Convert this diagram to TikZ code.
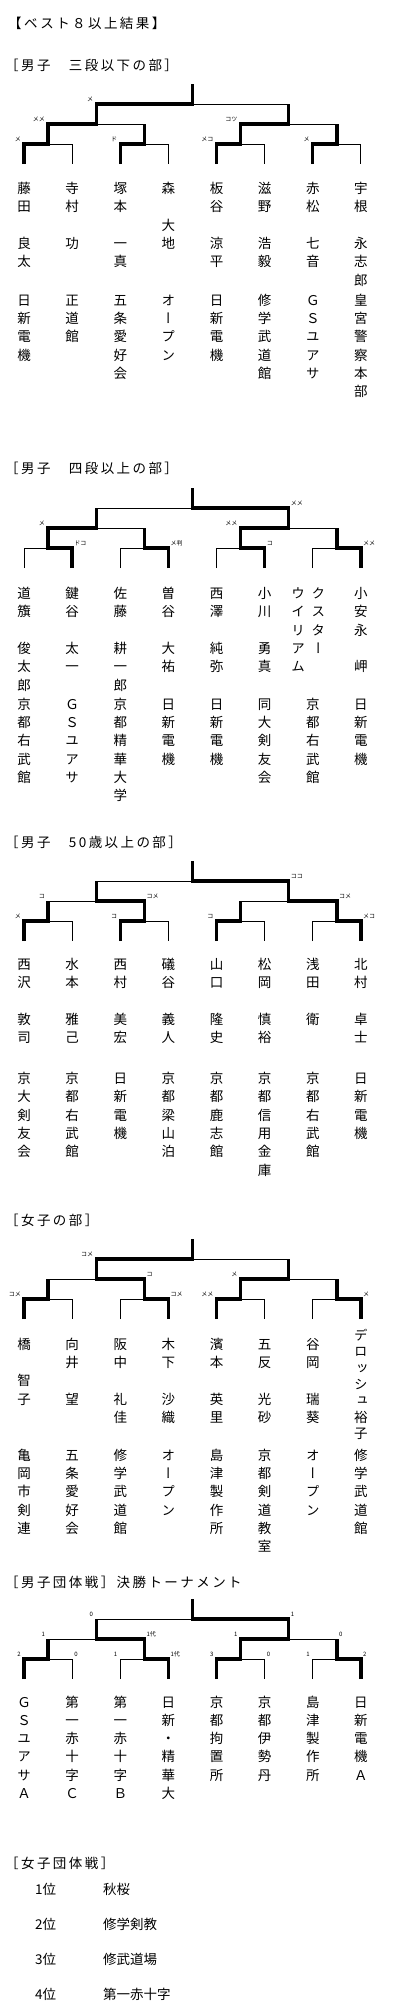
\documentclass[tikz,border=0pt]{standalone}
\usepackage{fontspec}
\newfontfamily\jp{Noto Sans CJK JP}
\newfontfamily\jphead{Noto Sans CJK JP}[LetterSpace=18]
\newfontfamily\jpvert{Noto Sans CJK JP}[RawFeature=+vert]
\newcommand{\st}{\rule{0pt}{12pt}}
\tikzset{
  loseline/.style={line width=1pt},
  winline/.style={line width=3.3pt, line join=miter},
  heading/.style={anchor=west, inner sep=0pt, font=\jphead\fontsize{13.5}{16}\selectfont},
  rank/.style={anchor=west, inner sep=0pt, font=\jp\fontsize{13.5}{16}\selectfont},
  score/.style={inner sep=0pt, font=\jp\fontsize{6}{7}\selectfont},
  scorel/.style={score, anchor=south east, xshift=-3pt, yshift=2pt},
  scorer/.style={score, anchor=south west, xshift=2pt, yshift=2pt},
  namecol/.style={anchor=north, inner sep=0pt, align=center, yshift=6.9pt,
    font=\jpvert\fontsize{13.5}{18.3}\selectfont},
}
\newcommand{\match}[4]{%
  \draw[loseline] ({#1-#2},{#3+20}) -- ({#1-#2},{#3}) -- ({#1+#2},{#3}) -- ({#1+#2},{#3+20});
  \draw[winline] ({#1+(#4)*#2},{#3+20}) -- ({#1+(#4)*#2},{#3}) -- ({#1},{#3}) -- ({#1},{#3-20});
}
\newcommand{\bracket}[8]{%
  \match{48.07}{24.07}{#1}{#2}
  \match{144.35}{24.07}{#1}{#3}
  \match{240.63}{24.07}{#1}{#4}
  \match{336.91}{24.07}{#1}{#5}
  \match{96.21}{48.14}{#1-20}{#6}
  \match{288.77}{48.14}{#1-20}{#7}
  \match{192.49}{96.28}{#1-40}{#8}
}
\begin{document}
\begin{tikzpicture}[x=1pt,y=-1pt]
\useasboundingbox (0,0) rectangle (400,2011);
\node[heading] (title) at (8,23) {【ベスト８以上結果】};

\node[heading] (h1) at (5,65) {［男子　三段以下の部］};
\bracket{144}{-1}{-1}{-1}{-1}{-1}{-1}{-1}
\node[scorel] (s1k1) at (96.21,104) {メ};
\node[scorel] (s1k2) at (48.07,124) {メメ};
\node[scorel] (s1k3) at (240.63,124) {コツ};
\node[scorel] (s1k4) at (24,144) {メ};
\node[scorel] (s1k5) at (120.28,144) {ド};
\node[scorel] (s1k6) at (216.56,144) {メコ};
\node[scorel] (s1k7) at (312.84,144) {メ};
\node[namecol] (s1p1) at (24,188.3) {\st{}藤\\田\\~\\良\\太};
\node[namecol] (s1p2) at (72.14,188.3) {\st{}寺\\村\\~\\功};
\node[namecol] (s1p3) at (120.28,188.3) {\st{}塚\\本\\~\\一\\真};
\node[namecol] (s1p4) at (168.42,188.3) {\st{}森\\~\\大\\地};
\node[namecol] (s1p5) at (216.56,188.3) {\st{}板\\谷\\~\\涼\\平};
\node[namecol] (s1p6) at (264.70,188.3) {\st{}滋\\野\\~\\浩\\毅};
\node[namecol] (s1p7) at (312.84,188.3) {\st{}赤\\松\\~\\七\\音};
\node[namecol] (s1p8) at (360.98,188.3) {\st{}宇\\根\\~\\永\\志\\郎};
\node[namecol] (s1c1) at (24,300) {\st{}日\\新\\電\\機};
\node[namecol] (s1c2) at (72.14,300) {\st{}正\\道\\館};
\node[namecol] (s1c3) at (120.28,300) {\st{}五\\条\\愛\\好\\会};
\node[namecol] (s1c4) at (168.42,300) {\st{}オ\\ー\\プ\\ン};
\node[namecol] (s1c5) at (216.56,300) {\st{}日\\新\\電\\機};
\node[namecol] (s1c6) at (264.70,300) {\st{}修\\学\\武\\道\\館};
\node[namecol] (s1c7) at (312.84,300) {\st{}Ｇ\\Ｓ\\ユ\\ア\\サ};
\node[namecol] (s1c8) at (360.98,300) {\st{}皇\\宮\\警\\察\\本\\部};

\node[heading] (h2) at (5,468) {［男子　四段以上の部］};
\bracket{548}{1}{1}{1}{1}{-1}{-1}{1}
\node[scorer] (s2k1) at (288.77,508) {メメ};
\node[scorel] (s2k2) at (48.07,528) {メ};
\node[scorel] (s2k3) at (240.63,528) {メメ};
\node[scorer] (s2k4) at (72.14,548) {ドコ};
\node[scorer] (s2k5) at (168.42,548) {メ判};
\node[scorer] (s2k6) at (264.70,548) {コ};
\node[scorer] (s2k7) at (360.98,548) {メメ};
\node[namecol] (s2p1) at (24,593.3) {\st{}道\\籏\\~\\俊\\太\\郎};
\node[namecol] (s2p2) at (72.14,593.3) {\st{}鍵\\谷\\~\\太\\一};
\node[namecol] (s2p3) at (120.28,593.3) {\st{}佐\\藤\\~\\耕\\一\\郎};
\node[namecol] (s2p4) at (168.42,593.3) {\st{}曽\\谷\\~\\大\\祐};
\node[namecol] (s2p5) at (216.56,593.3) {\st{}西\\澤\\~\\純\\弥};
\node[namecol] (s2p6) at (264.70,593.3) {\st{}小\\川\\~\\勇\\真};
\node[namecol] (s2p7a) at (298,593.3) {\st{}ウ\\イ\\リ\\ア\\ム};
\node[namecol] (s2p7b) at (318.3,593.3) {\st{}ク\\ス\\タ\\ー};
\node[namecol] (s2p8) at (360.98,593.3) {\st{}小\\安\\永\\~\\岬};
\node[namecol] (s2c1) at (24,704) {\st{}京\\都\\右\\武\\館};
\node[namecol] (s2c2) at (72.14,704) {\st{}Ｇ\\Ｓ\\ユ\\ア\\サ};
\node[namecol] (s2c3) at (120.28,704) {\st{}京\\都\\精\\華\\大\\学};
\node[namecol] (s2c4) at (168.42,704) {\st{}日\\新\\電\\機};
\node[namecol] (s2c5) at (216.56,704) {\st{}日\\新\\電\\機};
\node[namecol] (s2c6) at (264.70,704) {\st{}同\\大\\剣\\友\\会};
\node[namecol] (s2c7) at (312.84,704) {\st{}京\\都\\右\\武\\館};
\node[namecol] (s2c8) at (360.98,704) {\st{}日\\新\\電\\機};

\node[heading] (h3) at (5,842) {［男子　50歳以上の部］};
\bracket{921}{-1}{-1}{-1}{1}{1}{1}{1}
\node[scorer] (s3k1) at (288.77,881) {ココ};
\node[scorel] (s3k2) at (48.07,901) {コ};
\node[scorer] (s3k3) at (144.35,901) {コメ};
\node[scorer] (s3k4) at (336.91,901) {コメ};
\node[scorel] (s3k5) at (24,921) {メ};
\node[scorel] (s3k6) at (120.28,921) {コ};
\node[scorel] (s3k7) at (216.56,921) {コ};
\node[scorer] (s3k8) at (360.98,921) {メコ};
\node[namecol] (s3p1) at (24,964.3) {\st{}西\\沢\\~\\敦\\司};
\node[namecol] (s3p2) at (72.14,964.3) {\st{}水\\本\\~\\雅\\己};
\node[namecol] (s3p3) at (120.28,964.3) {\st{}西\\村\\~\\美\\宏};
\node[namecol] (s3p4) at (168.42,964.3) {\st{}礒\\谷\\~\\義\\人};
\node[namecol] (s3p5) at (216.56,964.3) {\st{}山\\口\\~\\隆\\史};
\node[namecol] (s3p6) at (264.70,964.3) {\st{}松\\岡\\~\\慎\\裕};
\node[namecol] (s3p7) at (312.84,964.3) {\st{}浅\\田\\~\\衛};
\node[namecol] (s3p8) at (360.98,964.3) {\st{}北\\村\\~\\卓\\士};
\node[namecol] (s3c1) at (24,1078.3) {\st{}京\\大\\剣\\友\\会};
\node[namecol] (s3c2) at (72.14,1078.3) {\st{}京\\都\\右\\武\\館};
\node[namecol] (s3c3) at (120.28,1078.3) {\st{}日\\新\\電\\機};
\node[namecol] (s3c4) at (168.42,1078.3) {\st{}京\\都\\梁\\山\\泊};
\node[namecol] (s3c5) at (216.56,1078.3) {\st{}京\\都\\鹿\\志\\館};
\node[namecol] (s3c6) at (264.70,1078.3) {\st{}京\\都\\信\\用\\金\\庫};
\node[namecol] (s3c7) at (312.84,1078.3) {\st{}京\\都\\右\\武\\館};
\node[namecol] (s3c8) at (360.98,1078.3) {\st{}日\\新\\電\\機};

\node[heading] (h4) at (5,1220) {［女子の部］};
\bracket{1299}{-1}{1}{-1}{1}{1}{-1}{-1}
\node[scorel] (s4k1) at (96.21,1259) {コメ};
\node[scorer] (s4k2) at (144.35,1279) {コ};
\node[scorel] (s4k3) at (240.63,1279) {メ};
\node[scorel] (s4k4) at (24,1299) {コメ};
\node[scorer] (s4k5) at (168.42,1299) {コメ};
\node[scorel] (s4k6) at (216.56,1299) {メメ};
\node[scorer] (s4k7) at (360.98,1299) {メ};
\node[namecol] (s4p1) at (24,1344) {\st{}橋\\~\\智\\子};
\node[namecol] (s4p2) at (72.14,1344) {\st{}向\\井\\~\\望};
\node[namecol] (s4p3) at (120.28,1344) {\st{}阪\\中\\~\\礼\\佳};
\node[namecol] (s4p4) at (168.42,1344) {\st{}木\\下\\~\\沙\\織};
\node[namecol] (s4p5) at (216.56,1344) {\st{}濱\\本\\~\\英\\里};
\node[namecol] (s4p6) at (264.70,1344) {\st{}五\\反\\~\\光\\砂};
\node[namecol] (s4p7) at (312.84,1344) {\st{}谷\\岡\\~\\瑞\\葵};
\node[namecol, font=\jpvert\fontsize{13.5}{16.4}\selectfont] (s4p8) at (360.98,1335) {\st{}デ\\ロ\\ッ\\シ\\ュ\\裕\\子};
\node[namecol] (s4c1) at (24,1455) {\st{}亀\\岡\\市\\剣\\連};
\node[namecol] (s4c2) at (72.14,1455) {\st{}五\\条\\愛\\好\\会};
\node[namecol] (s4c3) at (120.28,1455) {\st{}修\\学\\武\\道\\館};
\node[namecol] (s4c4) at (168.42,1455) {\st{}オ\\ー\\プ\\ン};
\node[namecol] (s4c5) at (216.56,1455) {\st{}島\\津\\製\\作\\所};
\node[namecol] (s4c6) at (264.70,1455) {\st{}京\\都\\剣\\道\\教\\室};
\node[namecol] (s4c7) at (312.84,1455) {\st{}オ\\ー\\プ\\ン};
\node[namecol] (s4c8) at (360.98,1455) {\st{}修\\学\\武\\道\\館};

\node[heading] (h5) at (5,1582) {［男子団体戦］決勝トーナメント};
\bracket{1659}{-1}{1}{-1}{1}{1}{-1}{1}
\node[scorel] (s5k1) at (96.21,1619) {0};
\node[scorer] (s5k2) at (288.77,1619) {1};
\node[scorel] (s5k3) at (48.07,1639) {1};
\node[scorer] (s5k4) at (144.35,1639) {1代};
\node[scorel] (s5k5) at (240.63,1639) {1};
\node[scorer] (s5k6) at (336.91,1639) {0};
\node[scorel] (s5k7) at (24,1659) {2};
\node[scorer] (s5k8) at (72.14,1659) {0};
\node[scorel] (s5k9) at (120.28,1659) {1};
\node[scorer] (s5k10) at (168.42,1659) {1代};
\node[scorel] (s5k11) at (216.56,1659) {3};
\node[scorer] (s5k12) at (264.70,1659) {0};
\node[scorel] (s5k13) at (312.84,1659) {1};
\node[scorer] (s5k14) at (360.98,1659) {2};
\node[namecol] (s5t1) at (24,1701.7) {\st{}Ｇ\\Ｓ\\ユ\\ア\\サ\\Ａ};
\node[namecol] (s5t2) at (72.14,1701.7) {\st{}第\\一\\赤\\十\\字\\Ｃ};
\node[namecol] (s5t3) at (120.28,1701.7) {\st{}第\\一\\赤\\十\\字\\Ｂ};
\node[namecol] (s5t4) at (168.42,1701.7) {\st{}日\\新\\・\\精\\華\\大};
\node[namecol] (s5t5) at (216.56,1701.7) {\st{}京\\都\\拘\\置\\所};
\node[namecol] (s5t6) at (264.70,1701.7) {\st{}京\\都\\伊\\勢\\丹};
\node[namecol] (s5t7) at (312.84,1701.7) {\st{}島\\津\\製\\作\\所};
\node[namecol] (s5t8) at (360.98,1701.7) {\st{}日\\新\\電\\機\\Ａ};

\node[heading] (h6) at (5,1863) {［女子団体戦］};
\node[rank] (r1) at (35,1889) {1位};
\node[rank] (r1t) at (103,1889) {秋桜};
\node[rank] (r2) at (35,1924) {2位};
\node[rank] (r2t) at (103,1924) {修学剣教};
\node[rank] (r3) at (35,1959) {3位};
\node[rank] (r3t) at (103,1959) {修武道場};
\node[rank] (r4) at (35,1994) {4位};
\node[rank] (r4t) at (103,1994) {第一赤十字};
\end{tikzpicture}
\end{document}
